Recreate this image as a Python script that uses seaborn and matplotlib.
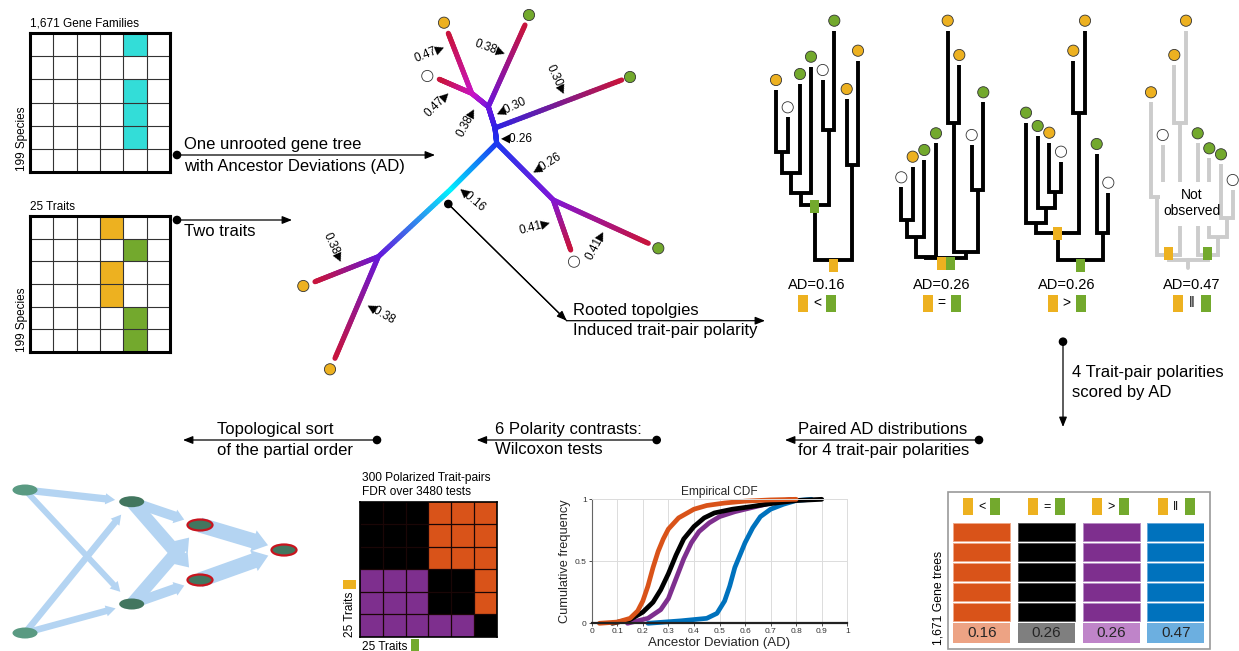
import numpy as np
import pandas as pd
import matplotlib
matplotlib.use("Agg")
import matplotlib.pyplot as plt
import seaborn as sns
from matplotlib.patches import Rectangle, Circle, Ellipse, FancyArrowPatch
from matplotlib.collections import LineCollection
from matplotlib.colors import ListedColormap, to_rgb

# ---------------------------------------------------------------- data
GENE_FAMILY_MATRIX = [[0, 0, 0, 0, 1, 0],
                      [0, 0, 0, 0, 0, 0],
                      [0, 0, 0, 0, 1, 0],
                      [0, 0, 0, 0, 1, 0],
                      [0, 0, 0, 0, 1, 0],
                      [0, 0, 0, 0, 0, 0]]
TRAIT_MATRIX = [[0, 0, 0, 1, 0, 0],
                [0, 0, 0, 0, 2, 0],
                [0, 0, 0, 1, 0, 0],
                [0, 0, 0, 1, 0, 0],
                [0, 0, 0, 0, 2, 0],
                [0, 0, 0, 0, 2, 0]]
POLARITY_MATRIX = [[0, 0, 0, 1, 1, 1],
                   [0, 0, 0, 1, 1, 1],
                   [0, 0, 0, 1, 1, 1],
                   [2, 2, 2, 0, 0, 1],
                   [2, 2, 2, 0, 0, 1],
                   [2, 2, 2, 2, 2, 0]]
POLARITY_NAMES = ["lt", "eq", "gt", "par"]
POLARITY_SYMBOLS = ["<", "=", ">", "\u2016"]
POLARITY_AD = [0.16, 0.26, 0.26, 0.47]
GENE_TREE_ROWS = 5

ECDF_X = {
    "lt": [0.03, 0.10, 0.15, 0.18, 0.20, 0.22, 0.24, 0.26, 0.28, 0.30, 0.34, 0.40, 0.45, 0.52, 0.60, 0.70, 0.80],
    "eq": [0.08, 0.15, 0.20, 0.24, 0.27, 0.30, 0.33, 0.36, 0.40, 0.44, 0.48, 0.55, 0.62, 0.70, 0.80, 0.90],
    "gt": [0.14, 0.22, 0.27, 0.30, 0.33, 0.36, 0.39, 0.42, 0.46, 0.50, 0.56, 0.62, 0.70, 0.78],
    "par": [0.22, 0.35, 0.45, 0.49, 0.52, 0.54, 0.56, 0.58, 0.60, 0.63, 0.66, 0.70, 0.75, 0.80, 0.86],
}
ECDF_Y = {
    "lt": [0.0, 0.01, 0.04, 0.10, 0.18, 0.30, 0.45, 0.58, 0.68, 0.76, 0.85, 0.92, 0.95, 0.97, 0.985, 0.995, 1.0],
    "eq": [0.0, 0.03, 0.09, 0.17, 0.27, 0.40, 0.55, 0.68, 0.78, 0.85, 0.89, 0.92, 0.94, 0.965, 0.99, 1.0],
    "gt": [0.0, 0.04, 0.11, 0.20, 0.36, 0.52, 0.65, 0.74, 0.81, 0.86, 0.90, 0.93, 0.97, 1.0],
    "par": [0.0, 0.02, 0.04, 0.08, 0.18, 0.30, 0.45, 0.55, 0.65, 0.77, 0.86, 0.92, 0.96, 0.99, 1.0],
}

# unrooted gene tree: branch AD labels
BRANCH_AD = ["0.47", "0.38", "0.30", "0.47", "0.30", "0.38", "0.26", "0.26", "0.16", "0.41", "0.41", "0.38", "0.38"]

# ---------------------------------------------------------------- style
ORANGE = "#EDB120"
GREEN = "#73A92D"
CYAN = "#33DDD8"
POL_COLORS = {"lt": "#D95319", "eq": "#000000", "gt": "#7E2F8E", "par": "#0072BD"}
POL_LIGHT = {"lt": "#EDA384", "eq": "#7F7F7F", "gt": "#BF84C9", "par": "#6CAFE0"}
POL_EDGE = {"lt": "#F0A888", "eq": "#555555", "gt": "#B88CC4", "par": "#66A8DA"}

sns.set_theme(style="white")
plt.rcParams["font.family"] = ["Liberation Sans", "DejaVu Sans"]

W, H = 1239, 651
fig = plt.figure(figsize=(W / 100, H / 100), dpi=100)
fig.patch.set_facecolor("white")
cv = fig.add_axes([0, 0, 1, 1])
cv.set_xlim(0, W)
cv.set_ylim(H, 0)
cv.axis("off")


def px_axes(x0, y0, x1, y1):
    return fig.add_axes([x0 / W, 1 - y1 / H, (x1 - x0) / W, (y1 - y0) / H])


def txt(x, y, s, size=12, ha="left", va="center", rot=0, color="black", **kw):
    cv.text(x, y, s, fontsize=size, ha=ha, va=va, rotation=rot, color=color,
            rotation_mode="anchor", **kw)


def arrow(x0, y0, x1, y1, dot=True):
    cv.add_patch(FancyArrowPatch((x0, y0), (x1, y1),
                                 arrowstyle="-|>,head_length=0.45,head_width=0.18",
                                 mutation_scale=13, lw=0.9, color="black",
                                 shrinkA=0, shrinkB=0, zorder=5))
    if dot:
        cv.add_patch(Circle((x0, y0), 3.6, color="black", zorder=6))


def trait_rect(cx, cy, kind, w=10, h=17, z=8):
    cv.add_patch(Rectangle((cx - w / 2, cy - h / 2), w, h,
                           facecolor=ORANGE if kind == "o" else GREEN,
                           edgecolor="none", zorder=z))


def pol_symbol(cx, cy, sym, w=10, h=17, off=14, size=10):
    trait_rect(cx - off, cy, "o", w, h)
    trait_rect(cx + off, cy, "g", w, h)
    txt(cx, cy, sym, size=size, ha="center")


def grid_heatmap(mat, colors, box, linecolor="#333333", lw_in=0.8, lw_out=2.2):
    ax = px_axes(*box)
    arr = np.array(mat)
    sns.heatmap(arr, cmap=ListedColormap(colors), vmin=-0.5,
                vmax=len(colors) - 0.5, cbar=False, linewidths=0,
                xticklabels=False, yticklabels=False, ax=ax)
    nr, nc = arr.shape
    ax.hlines(np.arange(1, nr), 0, nc, colors=linecolor, lw=lw_in, zorder=5)
    ax.vlines(np.arange(1, nc), 0, nr, colors=linecolor, lw=lw_in, zorder=5)
    for sp in ax.spines.values():
        sp.set_visible(True)
        sp.set_linewidth(lw_out)
        sp.set_edgecolor("black")
        sp.set_zorder(6)
    return ax


# ---------------------------------------------------------------- input matrices
grid_heatmap(GENE_FAMILY_MATRIX, ["white", CYAN], (30, 33, 170, 172), linecolor="#333333", lw_in=0.8)
grid_heatmap(TRAIT_MATRIX, ["white", ORANGE, GREEN], (30, 216, 170, 352), linecolor="#333333", lw_in=0.8)
txt(30, 24, "1,671 Gene Families", size=8.5)
txt(22, 139, "199 Species", size=8.5, ha="center", rot=90)
txt(30, 207, "25 Traits", size=8.5)
txt(22, 320, "199 Species", size=8.5, ha="center", rot=90)

arrow(177, 155, 435, 155)
txt(184, 145, "One unrooted gene tree", size=12)
txt(184, 166, "with Ancestor Deviations (AD)", size=12)
arrow(177, 220, 292, 220)
txt(184, 231, "Two traits", size=12)

# ---------------------------------------------------------------- unrooted tree
NODES = {"R": (450, 190), "C": (496.7, 143.3), "U": (495, 128), "V": (488.3, 106.7),
         "M": (471.7, 93.3), "D": (553.3, 200), "L": (378.3, 256.7)}
NODE_COL = {"R": "#00F6FF", "C": "#1C3AF0", "U": "#2A22E8", "V": "#6814E0",
            "M": "#C814C8", "D": "#8016D8", "L": "#6418DC"}
LEAF_COL = "#C8143C"
LEAVES = {"lo1": ((448.3, 33.3), (444, 22.7), "o"), "lw1": ((439.3, 79.3), (427.3, 76), "w"),
          "lg1": ((525, 25), (529, 15), "g"), "lg2": ((621.7, 80), (630, 77), "g"),
          "lg3": ((648.3, 243.3), (658.3, 248.3), "g"), "lw2": ((570.7, 250), (574, 261.7), "w"),
          "lo2": ((315, 281.7), (303.3, 286), "o"), "lo3": ((335, 358.3), (330, 369.3), "o")}
EDGES = [("R", "C"), ("R", "L"), ("C", "U"), ("C", "D"), ("U", "V"), ("U", "lg2"),
         ("V", "M"), ("V", "lg1"), ("M", "lo1"), ("M", "lw1"), ("D", "lg3"), ("D", "lw2"),
         ("L", "lo2"), ("L", "lo3")]


def grad_line(p0, p1, c0, c1, lw=3.7, n=40):
    t = np.linspace(0, 1, n + 1)
    xs = p0[0] + (p1[0] - p0[0]) * t
    ys = p0[1] + (p1[1] - p0[1]) * t
    pts = np.column_stack([xs, ys])
    segs = np.stack([pts[:-1], pts[1:]], axis=1)
    a, b = np.array(to_rgb(c0)), np.array(to_rgb(c1))
    tm = (t[:-1] + t[1:]) / 2
    cols = a[None, :] * (1 - tm[:, None]) + b[None, :] * tm[:, None]
    cv.add_collection(LineCollection(segs, colors=cols, linewidths=lw,
                                     capstyle="round", zorder=3))


def leaf_circle(x, y, kind, r=5.6):
    fc = {"o": ORANGE, "g": GREEN, "w": "white"}[kind]
    cv.add_patch(Circle((x, y), r, facecolor=fc, edgecolor="#333333", lw=0.6, zorder=7))


for a, b in EDGES:
    pa = NODES[a]
    if b in NODES:
        grad_line(pa, NODES[b], NODE_COL[a], NODE_COL[b])
    else:
        end, circ, kind = LEAVES[b]
        grad_line(pa, end, NODE_COL[a], LEAF_COL)
        leaf_circle(circ[0], circ[1], kind)

BRANCH_LABEL_POS = [(430, 53, 22, "r"), (490, 48, -20, "r"), (556, 80, -65, "r"),
                    (438, 103, 45, "r"), (512, 107, 25, "l"), (467, 122, 62, "r"),
                    (517, 139, 0, "l"), (547, 164, 32, "l"), (472, 199, -40, "l"),
                    (535, 227, 15, "r"), (596, 245, 62, "r"), (333, 248, -65, "r"),
                    (381, 313, -30, "l")]
for lab, (x, y, rot, side) in zip(BRANCH_AD, BRANCH_LABEL_POS):
    s = lab + "\u25B6" if side == "r" else "\u25C0" + lab
    txt(x, y, s, size=8.5, ha="center", rot=rot)

arrow(448.3, 204, 566.7, 320.7, dot=True)
cv.plot([448.3, 566.7], [204, 320.7], color="black", lw=0.9)
arrow(566.7, 320.7, 765, 320.7, dot=False)
txt(573, 310, "Rooted topolgies", size=12)
txt(573, 331, "Induced trait-pair polarity", size=12)

# ---------------------------------------------------------------- rooted trees
ROOTED_TREES = [
    dict(leaves=[(776, 80, "o"), (787.7, 107.3, "w"), (800, 74, "g"), (811, 56.7, "g"),
                 (822.7, 70, "w"), (834.3, 20.7, "g"), (846.7, 89, "o"), (858, 50.7, "o")],
         nodes=[(0, 1, 151.7), (8, 2, 173.3), (9, 3, 193.3), (4, 5, 130), (10, 11, 205),
                (6, 7, 165), (12, 13, 260)],
         markers=[(12, "g", 0, 1), (14, "o", 0, 5)], color="black", stub=0),
    dict(leaves=[(901.3, 177.3, "w"), (912.7, 156.7, "o"), (924.3, 150, "g"), (936, 133.3, "g"),
                 (947.7, 20.7, "o"), (959.3, 55, "o"), (971.7, 135, "w"), (983.3, 92.3, "g")],
         nodes=[(0, 1, 220), (8, 2, 236.7), (9, 3, 256.7), (4, 5, 123.3), (6, 7, 190),
                (11, 12, 252.3), (10, 13, 258.3)],
         markers=[(14, "o", -4.5, 5), (14, "g", 4.5, 5)], color="black", stub=0),
    dict(leaves=[(1026, 112.7, "g"), (1037.7, 126, "g"), (1049.3, 132.7, "o"), (1061, 151.7, "w"),
                 (1073.3, 50.7, "o"), (1085, 20.7, "o"), (1096.7, 144, "g"), (1108.3, 182.7, "w")],
         nodes=[(2, 3, 191.7), (1, 8, 208.3), (0, 9, 223.3), (4, 5, 113.3), (10, 11, 233.3),
                (6, 7, 233.3), (12, 13, 260)],
         markers=[(12, "o", 0, 0), (14, "g", 0, 5)], color="black", stub=0),
    dict(leaves=[(1151, 92.3, "o"), (1162.7, 135, "w"), (1174.3, 55, "o"), (1186, 20.7, "o"),
                 (1197.7, 133.3, "g"), (1209.3, 148.3, "g"), (1221, 154.3, "g"), (1232.7, 180, "w")],
         nodes=[(0, 1, 196.7), (2, 3, 123.3), (8, 9, 255), (6, 7, 218.3), (5, 11, 236.7),
                (4, 12, 255), (10, 13, 260)],
         markers=[(10, "o", 0, -2), (13, "g", 0, -2)], color="#CCCCCC", stub=8),
]
TREE_LABEL_X = [817, 941.7, 1066.7, 1191.7]


def draw_rooted(tree):
    leaves = tree["leaves"]
    n = len(leaves)
    pos = {i: (x, cy + 10) for i, (x, cy, k) in enumerate(leaves)}
    for j, (a, b, y) in enumerate(tree["nodes"]):
        xa, ya = pos[a]
        xb, yb = pos[b]
        cv.plot([xa, xa, xb, xb], [ya, y, y, yb], color=tree["color"], lw=2.8,
                solid_joinstyle="miter", solid_capstyle="butt", zorder=3)
        pos[n + j] = ((xa + xb) / 2, y)
    rx, ry = pos[n + len(tree["nodes"]) - 1]
    if tree["stub"]:
        cv.plot([rx, rx], [ry, ry + tree["stub"]], color=tree["color"], lw=2.8, zorder=3)
    for x, cy, k in leaves:
        leaf_circle(x, cy, k)
    for idx, k, dx, dy in tree["markers"]:
        mx, my = pos[idx]
        trait_rect(mx + dx, my + dy, k, w=9, h=13)


for tree in ROOTED_TREES:
    draw_rooted(tree)

cv.add_patch(Rectangle((1160, 182), 56, 44, facecolor="white", edgecolor="none", zorder=4))
txt(1191.7, 203, "Not\nobserved", size=10, ha="center", linespacing=1.15, zorder=9)

for x, ad, sym in zip(TREE_LABEL_X, POLARITY_AD, POLARITY_SYMBOLS):
    txt(x, 285, f"AD={ad:.2f}", size=10.5, ha="center")
    pol_symbol(x, 303, sym, w=10, h=17, off=14, size=10)

# ---------------------------------------------------------------- flow arrows (bottom)
arrow(1063, 341.7, 1063, 427)
txt(1071.7, 372.7, "4 Trait-pair polarities", size=12)
txt(1071.7, 393, "scored by AD", size=12)
arrow(979, 440, 785, 440)
txt(798.3, 429.5, "Paired AD distributions", size=12)
txt(798.3, 450, "for 4 trait-pair polarities", size=12)
arrow(656.7, 440, 476.7, 440)
txt(495, 429.5, "6 Polarity contrasts:", size=12)
txt(495, 450, "Wilcoxon tests", size=12)
arrow(377, 440, 183, 440)
txt(216.7, 429.5, "Topological sort", size=12)
txt(216.7, 450, "of the partial order", size=12)

# ---------------------------------------------------------------- DAG
DAG_POS = [(25, 490), (25, 633), (131.7, 501.7), (131.7, 604), (200, 525), (200, 580), (284, 550)]
DAG_KIND = ["src", "src", "mid", "mid", "sink", "sink", "sink"]
DAG_EDGES = [(0, 2, 5.5), (0, 3, 4.5), (1, 2, 5), (1, 3, 5), (2, 4, 7.5), (2, 5, 10),
             (3, 4, 9.5), (3, 5, 7.5), (4, 6, 11.5), (5, 6, 11.5)]
for a, b, w in DAG_EDGES:
    wpt = w * 0.95
    style = (f"simple,tail_width={wpt:.2f},head_width={max(wpt * 1.45, 8):.2f},"
             f"head_length={max(wpt * 1.0, 7):.2f}")
    cv.add_patch(FancyArrowPatch(DAG_POS[a], DAG_POS[b], arrowstyle=style, mutation_scale=1,
                                 color="#B4D4F2", lw=0, shrinkA=0, shrinkB=12, zorder=1))
for (x, y), kind in zip(DAG_POS, DAG_KIND):
    fc = "#5A9A82" if kind == "src" else "#42765F"
    ec = "#C8141E" if kind == "sink" else "none"
    cv.add_patch(Ellipse((x, y), 25, 11, facecolor=fc, edgecolor=ec,
                         lw=1.6 if kind == "sink" else 0, zorder=3))

# ---------------------------------------------------------------- polarity heatmap
grid_heatmap(POLARITY_MATRIX, [POL_COLORS["eq"], POL_COLORS["lt"], POL_COLORS["gt"]],
             (360, 501.7, 496.7, 636.7), linecolor="#1a0606", lw_in=0.9, lw_out=1.2)
txt(361.7, 478.3, "300 Polarized Trait-pairs", size=8.6)
txt(361.7, 491.7, "FDR over 3480 tests", size=8.6)
txt(349.7, 614, "25 Traits", size=8.6, ha="center", rot=90)
trait_rect(349.3, 584, "o", w=13.3, h=9)
txt(361.7, 647, "25 Traits", size=8.6)
trait_rect(415, 645, "g", w=8, h=12)

# ---------------------------------------------------------------- ECDF
ecdf_df = pd.concat([pd.DataFrame({"AD": ECDF_X[k], "F": ECDF_Y[k], "polarity": k})
                     for k in ["par", "gt", "eq", "lt"]], ignore_index=True)
ax_e = px_axes(591.7, 499.3, 847.3, 623.3)
sns.lineplot(data=ecdf_df, x="AD", y="F", hue="polarity", palette=POL_COLORS,
             hue_order=["par", "gt", "eq", "lt"], sort=False, estimator=None,
             lw=3.4, legend=False, ax=ax_e)
for ln in ax_e.lines:
    ln.set_clip_on(False)
    ln.set_solid_capstyle("round")
ax_e.set_xlim(0, 1)
ax_e.set_ylim(0, 1)
xt = np.round(np.arange(0, 1.01, 0.1), 1)
ax_e.set_xticks(xt)
ax_e.set_xticklabels(["0"] + [f"{v:.1f}" for v in xt[1:-1]] + ["1"])
ax_e.set_yticks([0, 0.5, 1])
ax_e.set_yticklabels(["0", "0.5", "1"])
ax_e.tick_params(labelsize=6, colors="#333333", length=2, width=0.6, pad=1.5,
                 bottom=True, left=True)
ax_e.grid(True, color="#dcdcdc", lw=0.7)
ax_e.set_axisbelow(True)
ax_e.spines["bottom"].set_linewidth(1.6)
ax_e.spines["bottom"].set_color("#222222")
ax_e.spines["left"].set_linewidth(0.8)
ax_e.spines["left"].set_color("#666666")
for s in ["top", "right"]:
    ax_e.spines[s].set_color("#dcdcdc")
    ax_e.spines[s].set_linewidth(0.7)
ax_e.set_xlabel("Ancestor Deviation (AD)", fontsize=9.5, labelpad=1)
ax_e.set_ylabel("Cumulative frequency", fontsize=9.2, labelpad=3)
ax_e.set_title("Empirical CDF", fontsize=8.6, pad=3)

# ---------------------------------------------------------------- AD table
cv.add_patch(Rectangle((948.3, 491.7), 261.7, 157.6, fill=False, edgecolor="#9a9a9a", lw=1.2))
HEADER_X = [981.7, 1046.7, 1110.7, 1176]
for x, sym in zip(HEADER_X, POLARITY_SYMBOLS):
    pol_symbol(x, 506.7, sym, w=10, h=16.7, off=13.5, size=9)
ax_t = px_axes(953.3, 522.7, 1204.3, 643.3)
for i, (k, ad) in enumerate(zip(POLARITY_NAMES, POLARITY_AD)):
    ax_t.bar([i] * GENE_TREE_ROWS, [0.9] * GENE_TREE_ROWS, bottom=np.arange(GENE_TREE_ROWS),
             width=0.881, align="edge", color=POL_COLORS[k], edgecolor=POL_EDGE[k], lw=0.7)
    ax_t.bar(i, 1.0, bottom=GENE_TREE_ROWS, width=0.881, align="edge",
             color=POL_LIGHT[k], edgecolor="none")
    ax_t.text(i + 0.44, GENE_TREE_ROWS + 0.5, f"{ad:.2f}", ha="center", va="center", fontsize=11)
ax_t.set_xlim(0, 3.881)
ax_t.set_ylim(GENE_TREE_ROWS + 1, 0)
ax_t.axis("off")
txt(938.3, 597.5, "1,671 Gene trees", size=8.8, ha="center", rot=90)

fig.savefig("out.png", dpi=100)
